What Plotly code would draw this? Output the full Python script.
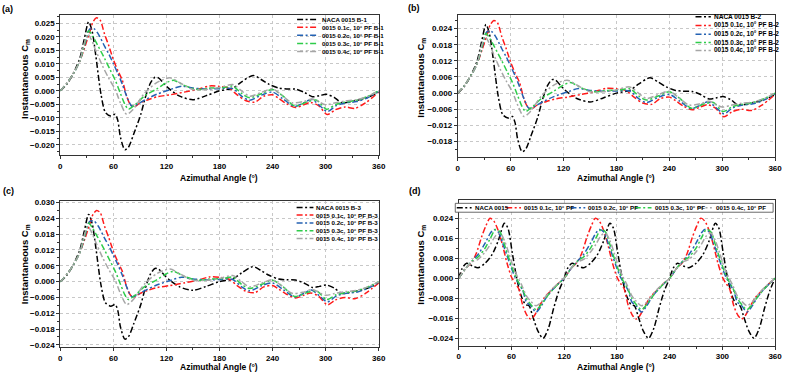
import plotly.graph_objects as go

W, H = 790, 375

# ---------------- Data: panels (a), (b), (c) ----------------
ABC_BLACK_X = [0, 7, 14, 22, 27, 32, 36, 40, 46, 51, 57, 62, 65, 68, 73, 77, 83, 91, 96, 102, 107, 111, 118, 124, 135,
               150, 165, 180, 195, 205, 218, 228, 236, 247, 256, 266, 276, 285, 293, 301, 310, 318, 333, 348, 360]
ABC_BLACK_Y = [0, 0.0023, 0.006, 0.012, 0.019, 0.0255, 0.022, 0.0133, -0.0013, -0.008, -0.0093, -0.0087, -0.011,
               -0.0172, -0.0218, -0.0209, -0.016, -0.0087, -0.0026, 0.0029, 0.005, 0.0048, 0.0023, 0.0005, -0.002,
               -0.0033, -0.0018, 0.0, 0.001, 0.0033, 0.0057, 0.004, 0.0024, 0.001, 0.0007, 0.0006, -0.0006, -0.0022,
               -0.0018, -0.0013, -0.0025, -0.0044, -0.0037, -0.0024, -0.0005]

ABC_RED_X = [0, 8, 15, 22, 28, 33, 37, 41, 45, 50, 55, 60, 65, 70, 75, 79, 83, 90, 100, 110, 124, 140, 155, 169, 180,
             191, 200, 210, 220, 230, 240, 247, 256, 266, 275, 283, 292, 302, 311, 322, 333, 345, 360]
ABC_RED_Y = [0, 0.003, 0.0065, 0.011, 0.0165, 0.0215, 0.0255, 0.027, 0.0262, 0.021, 0.0165, 0.0115, 0.0075, 0.004,
             -0.002, -0.005, -0.006, -0.0045, -0.0032, -0.0022, -0.0015, -0.0005, 0.0005, 0.0018, 0.0016, 0.0009,
             -0.0015, -0.0037, -0.0042, -0.002, -0.0015, -0.0028, -0.0048, -0.0062, -0.0052, -0.0043, -0.0055,
             -0.0088, -0.007, -0.006, -0.0065, -0.0045, -0.0005]

ABC_BLUE_X = [0, 8, 15, 22, 28, 33, 38, 43, 50, 55, 60, 65, 70, 75, 81, 88, 95, 109, 125, 137, 150, 165, 180, 195, 205,
              214, 228, 240, 252, 265, 275, 284, 295, 302, 312, 322, 335, 348, 360]
ABC_BLUE_Y = [0, 0.003, 0.0065, 0.011, 0.0175, 0.0228, 0.023, 0.021, 0.0165, 0.0135, 0.010, 0.0065, 0.0025, -0.002,
              -0.0057, -0.0048, -0.0035, -0.0013, 0.0005, 0.0017, 0.001, 0.0007, 0.0008, 0.0008, -0.002, -0.0035,
              -0.0015, -0.0005, -0.003, -0.0058, -0.0045, -0.0032, -0.006, -0.0077, -0.0055, -0.0045, -0.004,
              -0.0025, -0.0003]

ABC_GREEN_X = [0, 8, 15, 22, 28, 32, 37, 42, 50, 56, 62, 68, 73, 77, 85, 95, 109, 120, 128, 140, 155, 170, 185, 195,
               205, 214, 228, 240, 252, 265, 280, 290, 301, 312, 322, 335, 348, 360]
ABC_GREEN_Y = [0, 0.003, 0.0065, 0.011, 0.018, 0.0222, 0.020, 0.017, 0.012, 0.008, 0.004, -0.001, -0.005, -0.0068,
               -0.005, -0.002, 0.0007, 0.003, 0.0039, 0.002, 0.0005, 0.001, 0.0012, 0.0017, -0.001, -0.0026, -0.001,
               0.0005, -0.002, -0.0056, -0.004, -0.0035, -0.0068, -0.005, -0.0042, -0.0035, -0.002, 0]

ABC_GRAY_X = [0, 8, 15, 22, 27, 31, 35, 40, 48, 55, 62, 68, 75, 82, 95, 109, 124, 135, 150, 165, 180, 195, 205, 214,
              228, 240, 250, 262, 275, 285, 300, 310, 322, 335, 348, 360]
ABC_GRAY_Y = [0, 0.003, 0.0065, 0.011, 0.0175, 0.021, 0.019, 0.015, 0.009, 0.0045, 0.0005, -0.0045, -0.0087, -0.007,
              -0.001, 0.003, 0.0048, 0.003, 0.0005, 0.0005, 0.0012, 0.0023, 0.0, -0.002, -0.0005, 0.0007, -0.0015,
              -0.0044, -0.004, -0.003, -0.0052, -0.0045, -0.0038, -0.0033, -0.002, 0]

# ---------------- Data: panel (d) ----------------
D_BLACK_X = [0, 4, 9, 15, 22, 30, 38, 45, 52, 56, 61, 66, 71, 76, 80, 84, 90, 96, 102, 108, 114,
             120, 124, 129, 135, 142, 150, 158, 165, 172, 176, 181, 186, 191, 196, 200, 204, 210, 216, 222, 228, 234,
             240, 244, 249, 255, 262, 270, 278, 285, 292, 296, 301, 306, 311, 316, 320, 324, 330, 336, 342, 348, 354,
             360]
D_BLACK_Y = [0, 0.004, 0.006, 0.005, 0.0042, 0.006, 0.0095, 0.015, 0.022, 0.020, 0.010, 0.000, -0.007, -0.0105,
             -0.011, -0.015, -0.021, -0.024, -0.020, -0.012, -0.005,
             0, 0.004, 0.006, 0.005, 0.0042, 0.006, 0.0095, 0.015, 0.022, 0.020, 0.010, 0.000, -0.007, -0.0105,
             -0.011, -0.015, -0.021, -0.024, -0.020, -0.012, -0.005,
             0, 0.004, 0.006, 0.005, 0.0042, 0.006, 0.0095, 0.015, 0.022, 0.020, 0.010, 0.000, -0.007, -0.0105,
             -0.011, -0.015, -0.021, -0.024, -0.020, -0.012, -0.005, 0]

D_RED_X = [0, 8, 15, 20, 26, 31, 35.5, 40, 45, 50, 55, 60, 64, 68, 73, 78, 82, 86, 92, 98, 105, 112,
           120, 128, 135, 140, 146, 151, 155.5, 160, 165, 170, 175, 180, 184, 188, 193, 198, 202, 206, 212, 218, 225,
           232,
           240, 248, 255, 260, 266, 271, 275.5, 280, 285, 290, 295, 300, 304, 308, 313, 318, 322, 326, 332, 338, 345,
           352, 360]
D_RED_Y = [0, 0.004, 0.0065, 0.010, 0.0165, 0.021, 0.024, 0.0228, 0.019, 0.013, 0.006, 0.0005, -0.002, -0.004,
           -0.011, -0.015, -0.0163, -0.015, -0.011, -0.0075, -0.005, -0.0025,
           0, 0.004, 0.0065, 0.010, 0.0165, 0.021, 0.024, 0.0228, 0.019, 0.013, 0.006, 0.0005, -0.002, -0.004,
           -0.011, -0.015, -0.0163, -0.015, -0.011, -0.0075, -0.005, -0.0025,
           0, 0.004, 0.0065, 0.010, 0.0165, 0.021, 0.024, 0.0228, 0.019, 0.013, 0.006, 0.0005, -0.002, -0.004,
           -0.011, -0.015, -0.0163, -0.015, -0.011, -0.0075, -0.005, -0.0025, 0]

D_BLUE_X = [0, 8, 15, 22, 30, 36, 40, 45, 50, 55, 60, 64, 68, 73, 77, 82, 88, 94, 100, 107, 114,
            120, 128, 135, 142, 150, 156, 160, 165, 170, 175, 180, 184, 188, 193, 197, 202, 208, 214, 220, 227, 234,
            240, 248, 255, 262, 270, 276, 280, 285, 290, 295, 300, 304, 308, 313, 317, 322, 328, 334, 340, 347, 354,
            360]
D_BLUE_Y = [0, 0.004, 0.0068, 0.0095, 0.014, 0.018, 0.0195, 0.0185, 0.014, 0.009, 0.004, 0.0005, -0.002, -0.005,
            -0.0095, -0.011, -0.0135, -0.011, -0.0075, -0.0045, -0.002,
            0, 0.004, 0.0068, 0.0095, 0.014, 0.018, 0.0195, 0.0185, 0.014, 0.009, 0.004, 0.0005, -0.002, -0.005,
            -0.0095, -0.011, -0.0135, -0.011, -0.0075, -0.0045, -0.002,
            0, 0.004, 0.0068, 0.0095, 0.014, 0.018, 0.0195, 0.0185, 0.014, 0.009, 0.004, 0.0005, -0.002, -0.005,
            -0.0095, -0.011, -0.0135, -0.011, -0.0075, -0.0045, -0.002, 0]

D_GREEN_X = [0, 8, 15, 22, 30, 36, 42, 47, 52, 57, 62, 67, 72, 77, 82, 88, 94, 100, 107, 114,
             120, 128, 135, 142, 150, 156, 162, 167, 172, 177, 182, 187, 192, 197, 202, 208, 214, 220, 227, 234,
             240, 248, 255, 262, 270, 276, 282, 287, 292, 297, 302, 307, 312, 317, 322, 328, 334, 340, 347, 354, 360]
D_GREEN_Y = [0, 0.004, 0.0068, 0.0085, 0.012, 0.016, 0.0195, 0.0185, 0.0135, 0.008, 0.003, -0.001, -0.004, -0.008,
             -0.0105, -0.0125, -0.0105, -0.0075, -0.0045, -0.002,
             0, 0.004, 0.0068, 0.0085, 0.012, 0.016, 0.0195, 0.0185, 0.0135, 0.008, 0.003, -0.001, -0.004, -0.008,
             -0.0105, -0.0125, -0.0105, -0.0075, -0.0045, -0.002,
             0, 0.004, 0.0068, 0.0085, 0.012, 0.016, 0.0195, 0.0185, 0.0135, 0.008, 0.003, -0.001, -0.004, -0.008,
             -0.0105, -0.0125, -0.0105, -0.0075, -0.0045, -0.002, 0]

D_GRAY_X = [0, 8, 15, 22, 30, 36, 42, 47, 52, 57, 62, 67, 72, 77, 82, 88, 94, 100, 107, 114,
            120, 128, 135, 142, 150, 156, 162, 167, 172, 177, 182, 187, 192, 197, 202, 208, 214, 220, 227, 234,
            240, 248, 255, 262, 270, 276, 282, 287, 292, 297, 302, 307, 312, 317, 322, 328, 334, 340, 347, 354, 360]
D_GRAY_Y = [0, 0.004, 0.0065, 0.0075, 0.0105, 0.0135, 0.017, 0.018, 0.015, 0.010, 0.0045, 0.0005, -0.003, -0.007,
            -0.0092, -0.011, -0.0095, -0.0068, -0.004, -0.0018,
            0, 0.004, 0.0065, 0.0075, 0.0105, 0.0135, 0.017, 0.018, 0.015, 0.010, 0.0045, 0.0005, -0.003, -0.007,
            -0.0092, -0.011, -0.0095, -0.0068, -0.004, -0.0018,
            0, 0.004, 0.0065, 0.0075, 0.0105, 0.0135, 0.017, 0.018, 0.015, 0.010, 0.0045, 0.0005, -0.003, -0.007,
            -0.0092, -0.011, -0.0095, -0.0068, -0.004, -0.0018, 0]

X_TICKS = [0, 60, 120, 180, 240, 300, 360]
SERIES_SUFFIX = ["0015 0.1c, 10° PF", "0015 0.2c, 10° PF", "0015 0.3c, 10° PF", "0015 0.4c, 10° PF"]

COLORS = ["#000000", "#ff1a1a", "#2462b3", "#2ecc4a", "#a6a6a6"]
DASH = "6px,2.5px,2px,2.5px"
FONT = "Liberation Sans, Arial, sans-serif"

ABC_DATA = [(ABC_BLACK_X, ABC_BLACK_Y), (ABC_RED_X, ABC_RED_Y), (ABC_BLUE_X, ABC_BLUE_Y),
            (ABC_GREEN_X, ABC_GREEN_Y), (ABC_GRAY_X, ABC_GRAY_Y)]
D_DATA = [(D_BLACK_X, D_BLACK_Y), (D_RED_X, D_RED_Y), (D_BLUE_X, D_BLUE_Y),
          (D_GREEN_X, D_GREEN_Y), (D_GRAY_X, D_GRAY_Y)]


def px(x):
    return x / W


def py(y):
    return 1 - y / H


# panel geometry in pixels: (left, right, top, bottom)
PANELS = {
    1: dict(box=(59, 381, 13.3, 155), yr=[-0.0239, 0.028], dtick=0.005, data=ABC_DATA, tag="B-1"),
    2: dict(box=(461, 782, 13.3, 157), yr=[-0.0239, 0.029], dtick=0.006, data=ABC_DATA, tag="B-2"),
    3: dict(box=(59, 381, 200.7, 349), yr=[-0.0249, 0.03075], dtick=0.006, data=ABC_DATA, tag="B-3"),
    4: dict(box=(462, 782, 200, 347.3), yr=[-0.0269, 0.0313], dtick=0.008, data=D_DATA, tag=None),
}

fig = go.Figure()
layout = dict(width=W, height=H, margin=dict(l=0, r=0, t=0, b=0), paper_bgcolor="white",
              plot_bgcolor="white", showlegend=False, font=dict(family=FONT, color="black"))

for k, p in PANELS.items():
    l, r, t, b = p["box"]
    sfx = "" if k == 1 else str(k)
    tag = p["tag"]
    names = (["NACA 0015 " + tag] + [s + " " + tag for s in SERIES_SUFFIX]) if tag else (["NACA 0015"] + SERIES_SUFFIX)
    for i, (xs, ys) in enumerate(p["data"]):
        fig.add_trace(go.Scatter(x=xs, y=ys, mode="lines", name=names[i],
                                 line=dict(color=COLORS[i], width=1.5, dash=DASH, shape="spline", smoothing=0.8),
                                 xaxis="x" + sfx, yaxis="y" + sfx))
    common = dict(showline=True, linecolor="#333333", linewidth=1, mirror=True,
                  ticks="outside", ticklen=3, tickwidth=1, tickcolor="#333333",
                  showgrid=True, gridcolor="#c8c8c8", griddash="dot", gridwidth=1, zeroline=False,
                  tickfont=dict(family=FONT, size=8, color="black", weight="bold"))
    layout["xaxis" + sfx] = dict(common, domain=[px(l), px(r)], anchor="y" + sfx, range=[0, 360],
                                 tickmode="array", tickvals=X_TICKS,
                                 minor=dict(ticks="outside", ticklen=2, dtick=30, tick0=0, tickcolor="#333333",
                                            showgrid=False))
    layout["yaxis" + sfx] = dict(common, domain=[py(b), py(t)], anchor="x" + sfx, range=p["yr"],
                                 tick0=0, dtick=p["dtick"], tickformat=".3f",
                                 minor=dict(ticks="outside", ticklen=2, dtick=p["dtick"] / 2, tickcolor="#333333",
                                            showgrid=False))

annotations = []
shapes = []

# panel labels
for lab, x, y in [("(a)", 6, 7), ("(b)", 416.5, 6.5), ("(c)", 6.5, 191), ("(d)", 417.5, 191)]:
    annotations.append(dict(text="<b>" + lab + "</b>", x=px(x), y=py(y), xref="paper", yref="paper",
                            showarrow=False, xanchor="center", yanchor="middle",
                            font=dict(size=9, family=FONT, color="black")))

# axis titles
for (xc, yc) in [(219, 178), (620.8, 178), (219, 369), (620.8, 369)]:
    annotations.append(dict(text="<b>Azimuthal Angle (°)</b>", x=px(xc), y=py(yc), xref="paper", yref="paper",
                            showarrow=False, xanchor="center", yanchor="middle",
                            font=dict(size=8.5, family=FONT, color="black")))
for (xc, yc) in [(23, 78), (424.3, 76), (23.3, 265), (424.3, 265)]:
    annotations.append(dict(text="<b>Instantaneous C<sub>m</sub></b>", x=px(xc), y=py(yc), xref="paper",
                            yref="paper", showarrow=False, xanchor="center", yanchor="middle", textangle=-90,
                            font=dict(size=9.5, family=FONT, color="black")))

# vertical legends for panels a-c
LEG = {
    1: dict(x0=298.5, x1=320, xt=321.5, ys=[17.7, 25.5, 33.7, 42, 50], fs=6.2),
    2: dict(x0=701.5, x1=717, xt=718, ys=[15, 23.7, 32.5, 41, 49], fs=6.5),
    3: dict(x0=298, x1=315, xt=316, ys=[207.7, 215.4, 223.3, 231.3, 239], fs=6.2),
}
for k, lg in LEG.items():
    tag = PANELS[k]["tag"]
    names = ["NACA 0015 " + tag] + [s + " " + tag for s in SERIES_SUFFIX]
    for i, yv in enumerate(lg["ys"]):
        shapes.append(dict(type="line", xref="paper", yref="paper", x0=px(lg["x0"]), x1=px(lg["x1"]),
                           y0=py(yv), y1=py(yv), line=dict(color=COLORS[i], width=1.5, dash=DASH)))
        annotations.append(dict(text="<b>" + names[i] + "</b>", x=px(lg["xt"]), y=py(yv), xref="paper",
                                yref="paper", showarrow=False, xanchor="left", yanchor="middle",
                                font=dict(size=lg["fs"], family=FONT, color="black")))

# horizontal legend for panel d
d_names = ["NACA 0015"] + SERIES_SUFFIX
d_samples = [(460, 475, 476.5), (510, 525, 526), (575, 590, 591), (640, 657, 658), (703, 718, 720)]
yl = 208
shapes.append(dict(type="rect", xref="paper", yref="paper", x0=px(458.5), x1=px(780), y0=py(212.5), y1=py(203.5),
                   line=dict(color="#444444", width=0.8), fillcolor="white"))
for i, (a0, a1, at) in enumerate(d_samples):
    shapes.append(dict(type="line", xref="paper", yref="paper", x0=px(a0), x1=px(a1), y0=py(yl), y1=py(yl),
                       line=dict(color=COLORS[i], width=1.5, dash=DASH)))
    annotations.append(dict(text="<b>" + d_names[i] + "</b>", x=px(at), y=py(yl), xref="paper", yref="paper",
                            showarrow=False, xanchor="left", yanchor="middle",
                            font=dict(size=6.2, family=FONT, color="black")))

layout["annotations"] = annotations
layout["shapes"] = shapes
fig.update_layout(**layout)
fig.write_html("out.html")
